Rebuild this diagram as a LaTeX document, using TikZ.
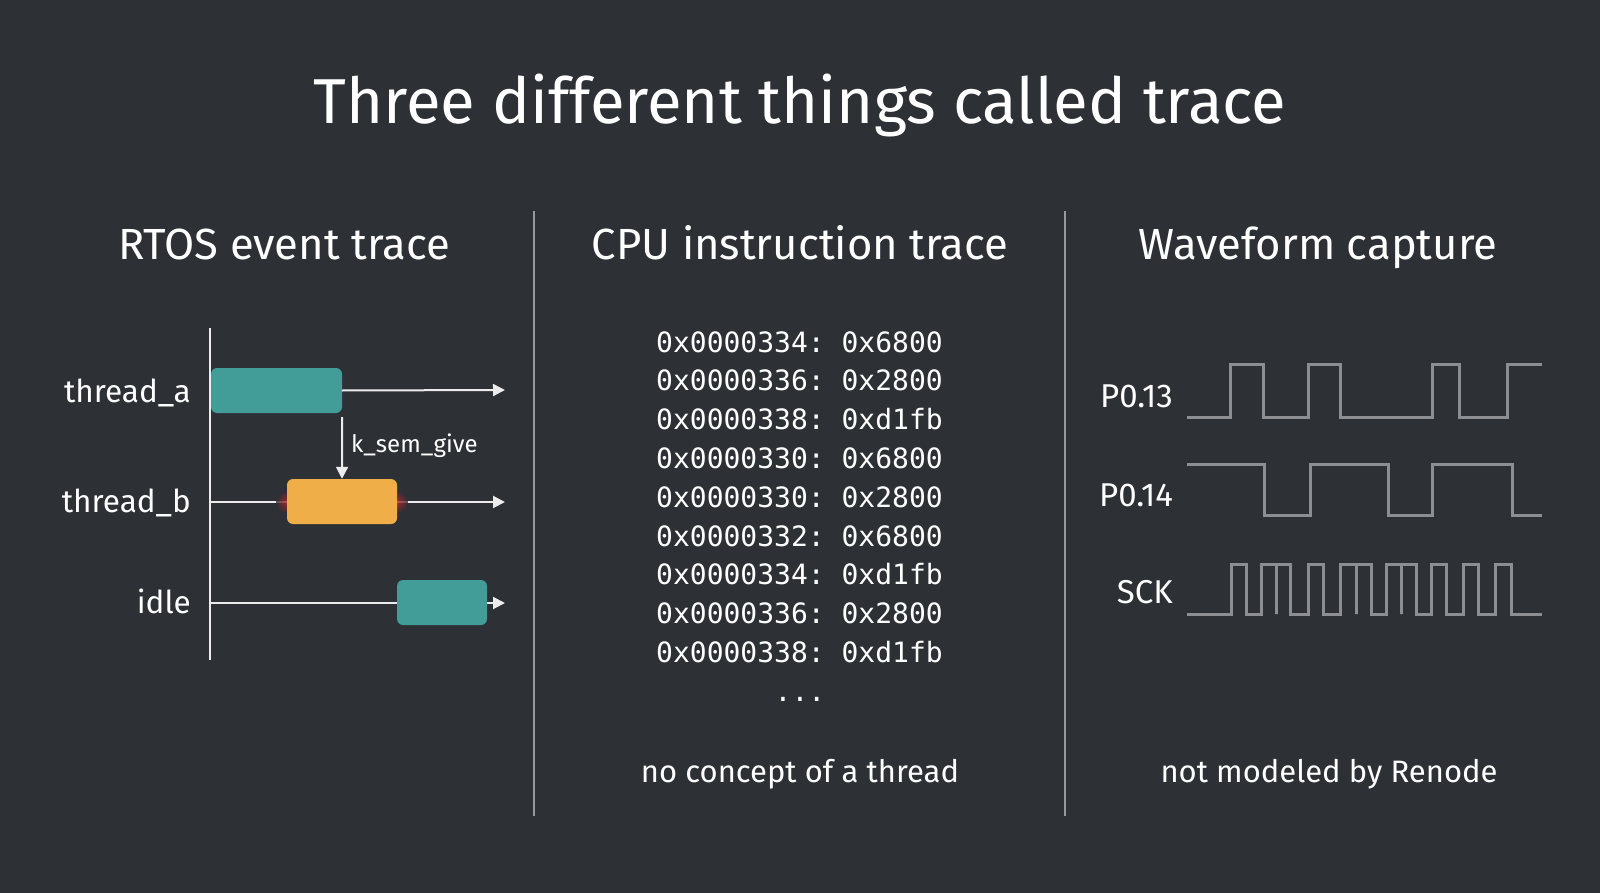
\documentclass[tikz,border=0pt]{standalone}
\usepackage{fontspec}
\setmainfont{Fira Sans}
\setmonofont{DejaVu Sans Mono}
\usetikzlibrary{arrows.meta}
\definecolor{slidebg}{RGB}{45,48,53}
\definecolor{runteal}{RGB}{66,156,151}
\definecolor{runamber}{RGB}{240,174,72}
\definecolor{glowred}{RGB}{235,35,40}
\definecolor{wavegray}{RGB}{140,142,146}
\definecolor{dividergray}{RGB}{150,152,155}
\definecolor{axiswhite}{RGB}{236,236,236}
\tikzset{
  titletext/.style={
    text=white,
    font=\fontsize{63.5}{70}\selectfont,
    anchor=base,
    inner sep=0pt
  },
  headtext/.style={
    text=white,
    font=\fontsize{43.6}{50}\selectfont,
    anchor=base,
    inner sep=0pt
  },
  notetext/.style={
    text=white,
    font=\fontsize{31}{36}\selectfont,
    anchor=base,
    inner sep=0pt
  },
  rowlabel/.style={
    text=white,
    font=\fontsize{31.5}{36}\selectfont,
    anchor=base east,
    inner sep=0pt
  },
  pinlabel/.style={
    rowlabel,
    font=\fontsize{33}{38}\selectfont
  },
  codeline/.style={
    text=white,
    font=\ttfamily\fontsize{28}{32}\selectfont,
    anchor=base west,
    inner sep=0pt
  },
  runbox/.style={
    rounded corners=6pt,
    minimum height=45pt,
    inner sep=0pt
  },
  timeline/.style={
    draw=axiswhite,
    line width=2pt,
    -{Triangle[length=12pt,width=12pt]}
  },
  wave/.style={
    draw=wavegray,
    line width=3pt
  },
  divider/.style={
    draw=dividergray,
    line width=2.5pt
  }
}

\begin{document}
\begin{tikzpicture}[x=1pt,y=-1pt]

  % Slide background fixes the page to the 1600 x 893 frame.
  \fill[slidebg] (0,0) rectangle (1600,893);
  \useasboundingbox (0,0) rectangle (1600,893);

  \node[titletext] (title) at (800,124) {Three different things called trace};

  % Column headings and the two separators.
  \node[headtext] (rtoshead) at (284,260) {RTOS event trace};
  \node[headtext] (cpuhead)  at (800,260) {CPU instruction trace};
  \node[headtext] (wavehead) at (1318,260) {Waveform capture};

  \draw[divider] (534,211) -- (534,816);
  \draw[divider] (1065,211) -- (1065,816);

  % RTOS event trace: one time axis per thread.
  \coordinate (axtop) at (210,328);
  \coordinate (axbot) at (210,660);
  \draw[draw=axiswhite,line width=2pt] (axtop) -- (axbot);

  \coordinate (rowa) at (210,390);
  \coordinate (rowb) at (210,502);
  \coordinate (rowi) at (210,603);
  \coordinate (enda) at (505,390);
  \coordinate (endb) at (505,502);
  \coordinate (endi) at (505,603);

  \node[rowlabel] (lbla) at (191,402) {thread\_a};
  \node[rowlabel] (lblb) at (191,512) {thread\_b};
  \node[rowlabel] (lbli) at (191,613) {idle};

  \draw[timeline] (rowb) -- (endb);
  \draw[timeline] (rowi) -- (endi);

  % Soft red glow where thread_b is woken up.
  \shade[inner color=glowred!75!slidebg,outer color=slidebg,opacity=0.8]
    (287,502) circle[radius=11];
  \shade[inner color=glowred!75!slidebg,outer color=slidebg,opacity=0.8]
    (397,502) circle[radius=11];

  \node[runbox,fill=runteal,minimum width=131pt] (runa) at (276.5,390.5) {};
  \node[runbox,fill=runamber,minimum width=110pt] (runb) at (342,501.5) {};
  \node[runbox,fill=runteal,minimum width=90pt] (runi) at (442,602.5) {};

  \draw[timeline] (runa.east) -- (enda);
  \draw[timeline,shorten <=4pt] (runa.south east) -- (runb.north);
  \node[text=white,font=\fontsize{24}{28}\selectfont,inner sep=0pt,
        anchor=base west] (semlbl) at (351,452) {k\_sem\_give};

  % CPU instruction trace: raw address / opcode pairs.
  \foreach \addr/\op [count=\i from 0] in {
      0x0000334/0x6800, 0x0000336/0x2800, 0x0000338/0xd1fb,
      0x0000330/0x6800, 0x0000330/0x2800, 0x0000332/0x6800,
      0x0000334/0xd1fb, 0x0000336/0x2800, 0x0000338/0xd1fb}
    \node[codeline] (code\i) at (656,352+38.8*\i) {\addr:\ \op};
  \node[codeline,anchor=base] (codedots) at (800,701) {...};

  \node[notetext] (cpunote) at (800,782) {no concept of a thread};

  % Waveform capture: two GPIO pins and the SPI clock.
  \node[pinlabel] (pin13) at (1173,407) {P0.13};
  \node[pinlabel] (pin14) at (1173,506) {P0.14};
  \node[pinlabel] (sck)   at (1173,603) {SCK};

  \draw[wave] (1187,417) -| (1230,364) -| (1263,417) -| (1308,364)
    -| (1340,417) -| (1432,364) -| (1459,417) -| (1507,364) -- (1542,364);
  \draw[wave] (1187,464) -| (1264,515) -| (1310,464) -| (1388,515)
    -| (1432,464) -| (1512,515) -- (1542,515);
  \draw[wave] (1187,614) -| (1231.7,564) -| (1246.7,614) -| (1261.7,564)
    -| (1276.7,614) -- (1276.7,564) -| (1290,614) -| (1308.3,564)
    -| (1323.3,614) -| (1340,564) -| (1356.7,614) -- (1356.7,564)
    -| (1371.7,614) -| (1386.7,564) -| (1401.7,614) -- (1401.7,564)
    -| (1416.7,614) -| (1431.7,564) -| (1446.7,614) -| (1463.3,564)
    -| (1478.3,614) -| (1495,564) -| (1511.7,614) -- (1542,614);

  \node[notetext] (wavenote) at (1329,782) {not modeled by Renode};

\end{tikzpicture}
\end{document}
